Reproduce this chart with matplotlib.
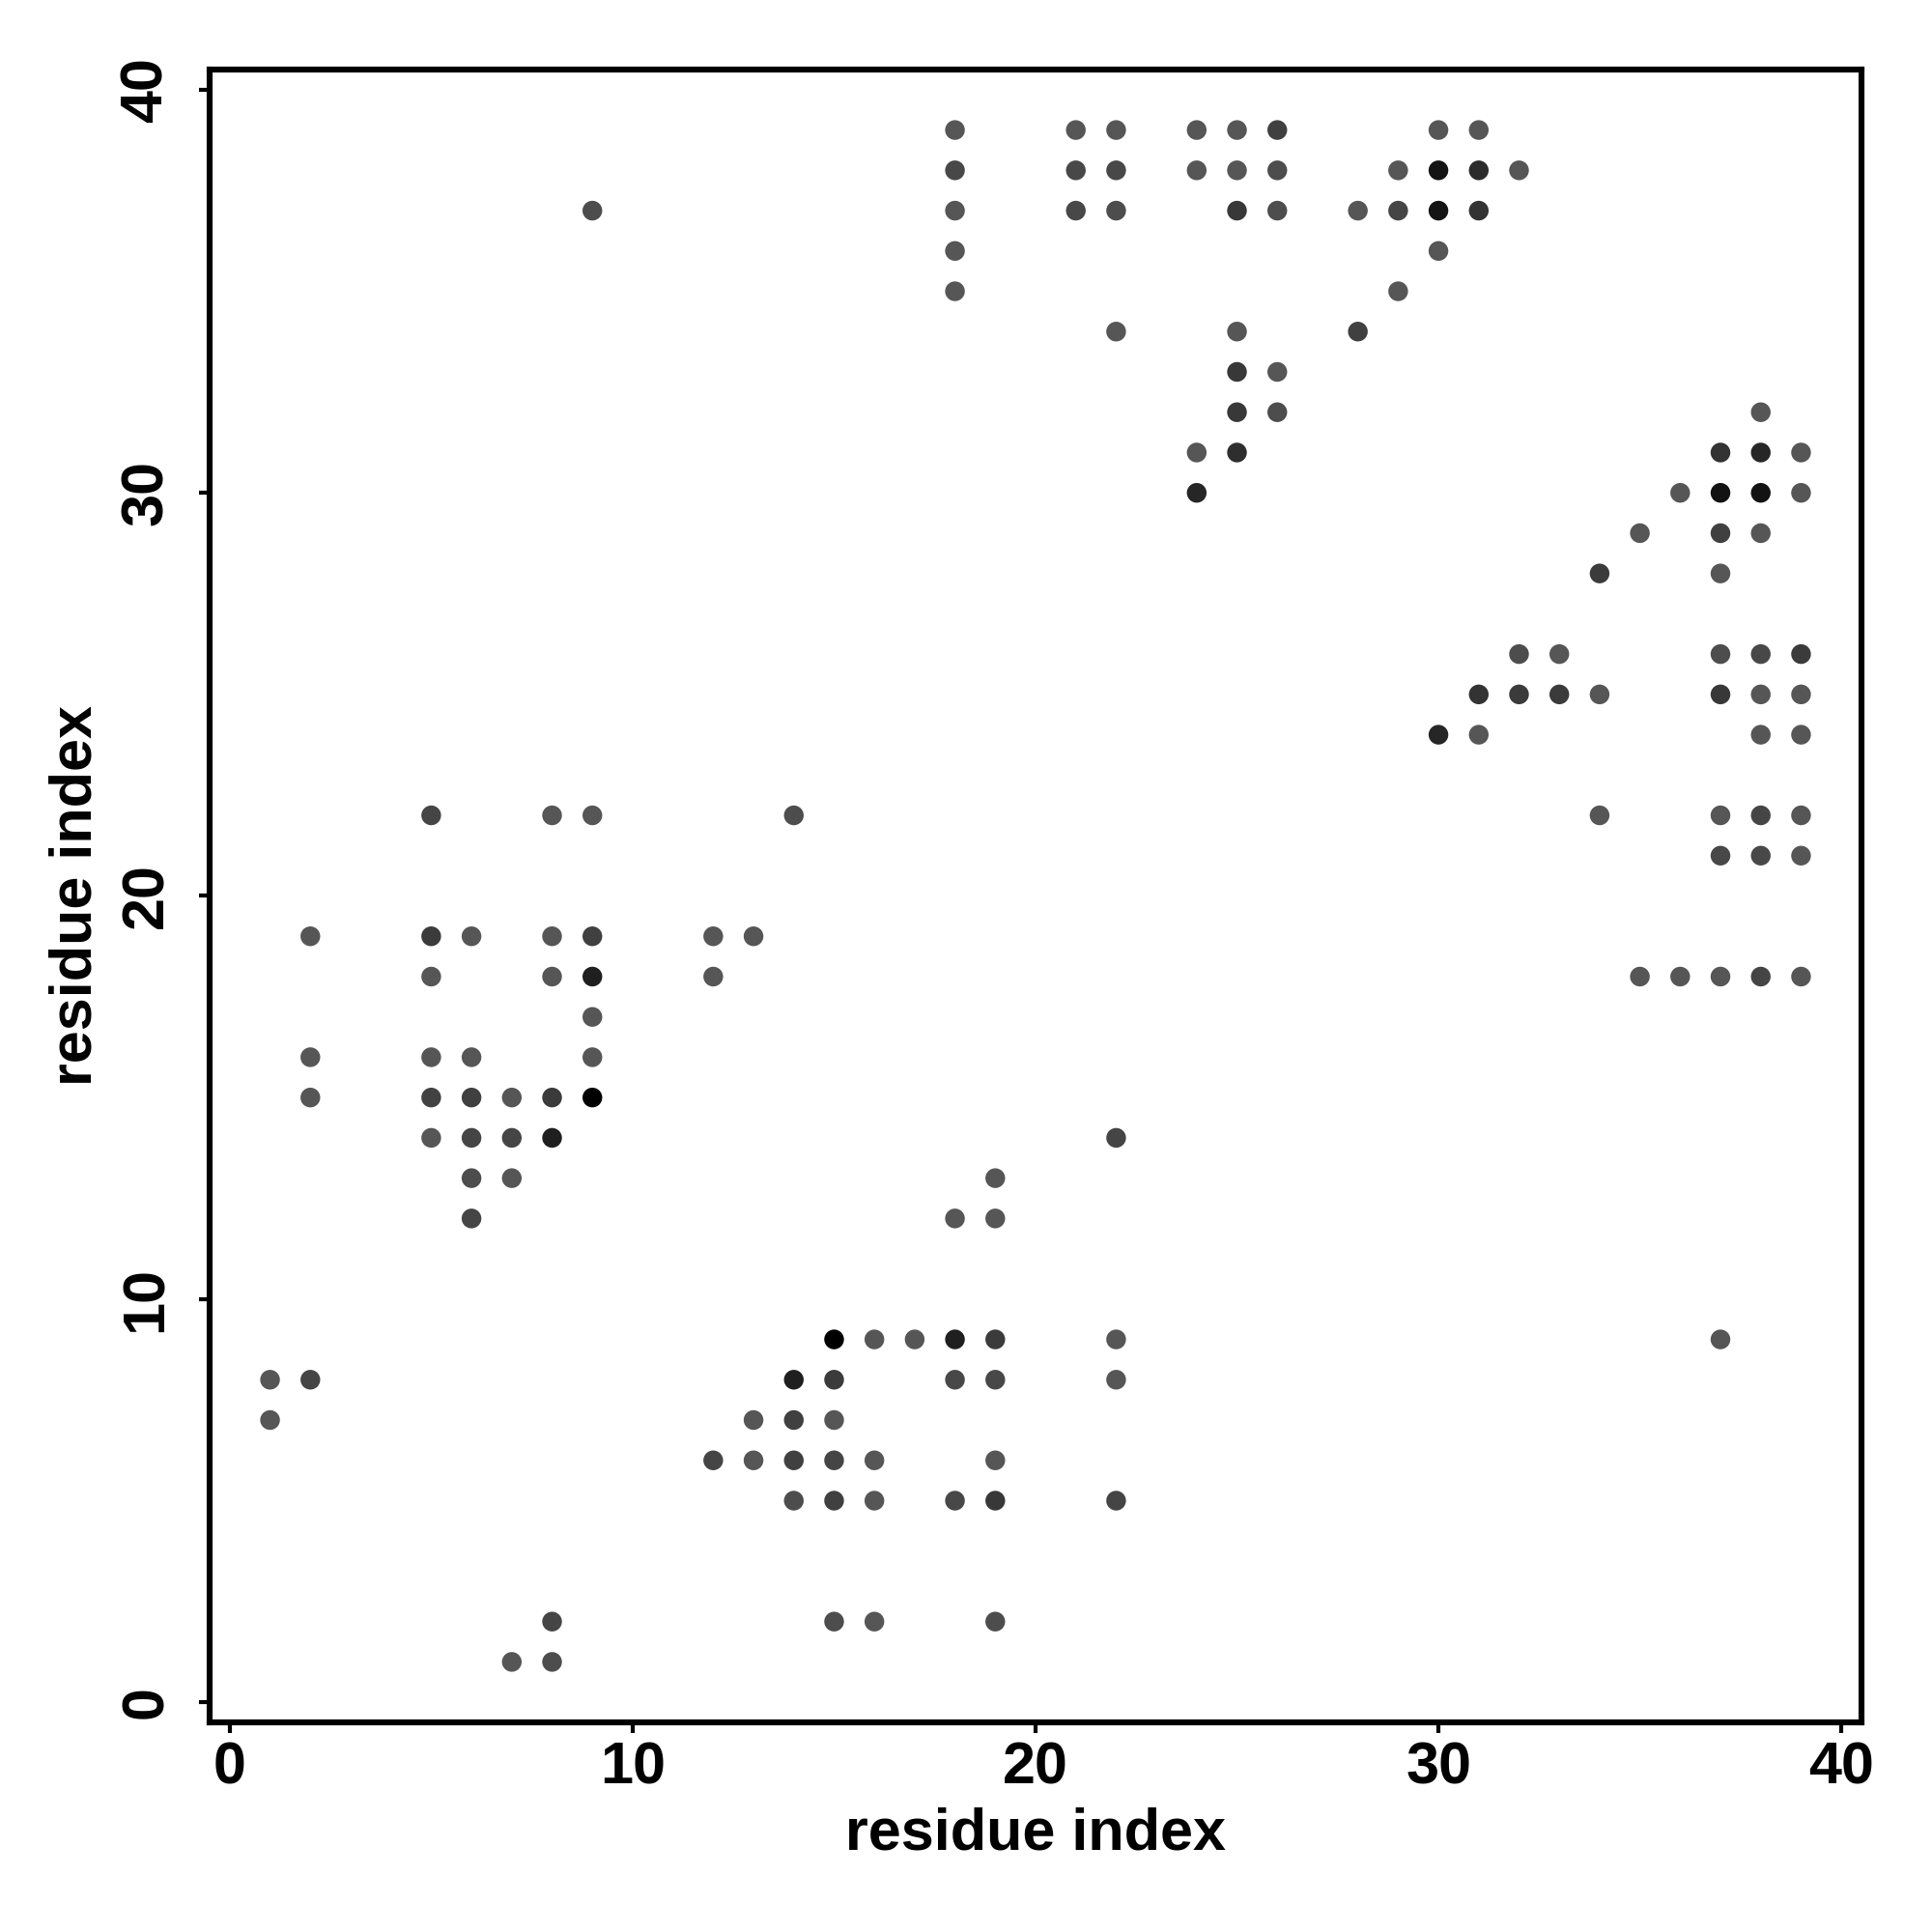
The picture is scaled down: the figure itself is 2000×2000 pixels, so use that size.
import matplotlib
matplotlib.use('Agg')
import matplotlib.pyplot as plt
import numpy as np

# contact map: residue pairs (i, j) and grey level of each dot (0 = black, 255 = white)
res_i = [18, 21, 22, 24, 25, 26, 30, 31,
         18, 21, 22, 24, 25, 26, 29, 30, 31, 32,
         9, 18, 21, 22, 25, 26, 28, 29, 30, 31,
         18, 30,
         18, 29,
         22, 25, 28,
         25, 26,
         25, 26, 38,
         24, 25, 37, 38, 39,
         24, 36, 37, 38, 39,
         35, 37, 38,
         34, 37,
         32, 33, 37, 38, 39,
         31, 32, 33, 34, 37, 38, 39,
         30, 31, 38, 39,
         5, 8, 9, 14, 34, 37, 38, 39,
         37, 38, 39,
         2, 5, 6, 8, 9, 12, 13,
         5, 8, 9, 12, 35, 36, 37, 38, 39,
         9,
         2, 5, 6, 9,
         2, 5, 6, 7, 8, 9,
         5, 6, 7, 8, 22,
         6, 7, 19,
         6, 18, 19,
         15, 16, 17, 18, 19, 22, 37,
         1, 2, 14, 15, 18, 19, 22,
         1, 13, 14, 15,
         12, 13, 14, 15, 16, 19,
         14, 15, 16, 18, 19, 22,
         8, 15, 16, 19,
         7, 8]

res_j = [39] * 8 + [38] * 10 + [37] * 10 + [36] * 2 + [35] * 2 + [34] * 3 \
    + [33] * 2 + [32] * 3 + [31] * 5 + [30] * 5 + [29] * 3 + [28] * 2 \
    + [26] * 5 + [25] * 7 + [24] * 4 + [22] * 8 + [21] * 3 + [19] * 7 \
    + [18] * 9 + [17] * 1 + [16] * 4 + [15] * 6 + [14] * 5 + [13] * 3 \
    + [12] * 3 + [9] * 7 + [8] * 7 + [7] * 4 + [6] * 6 + [5] * 6 \
    + [2] * 4 + [1] * 2

grey = [86, 86, 86, 86, 86, 64, 86, 86,
        72, 72, 72, 86, 86, 77, 86, 20, 43, 86,
        77, 86, 72, 77, 56, 77, 86, 69, 20, 51,
        86, 86,
        86, 86,
        86, 86, 64,
        56, 86,
        56, 77, 86,
        86, 46, 51, 38, 86,
        38, 86, 18, 18, 86,
        86, 64, 86,
        59, 86,
        77, 86, 77, 72, 59,
        51, 59, 59, 86, 56, 86, 86,
        38, 86, 86, 86,
        69, 86, 86, 77, 86, 86, 69, 86,
        72, 72, 86,
        86, 59, 86, 86, 64, 86, 86,
        86, 86, 31, 86, 86, 86, 86, 69, 86,
        86,
        86, 86, 86, 86,
        86, 66, 64, 86, 59, 0,
        86, 69, 69, 31, 69,
        77, 86, 86,
        69, 86, 86,
        0, 86, 86, 31, 59, 86, 86,
        86, 69, 31, 59, 72, 72, 86,
        86, 86, 64, 86,
        69, 86, 64, 69, 86, 86,
        77, 64, 86, 72, 56, 69,
        69, 77, 86, 77,
        86, 77]

colors = [(g / 255, g / 255, g / 255) for g in grey]

plt.rcParams['font.family'] = ['Liberation Sans', 'DejaVu Sans']
plt.rcParams['font.weight'] = 'bold'

fig = plt.figure(figsize=(10, 10), dpi=200)
ax = fig.add_axes([0.1085, 0.1085, 0.855, 0.8555])
ax.scatter(res_i, res_j, s=54, c=colors, linewidths=0, zorder=3)

ax.set_xlim(-0.5, 40.5)
ax.set_ylim(-0.5, 40.5)
ax.set_xticks([0, 10, 20, 30, 40])
ax.set_yticks([0, 10, 20, 30, 40])
for sp in ax.spines.values():
    sp.set_linewidth(2.2)
ax.tick_params(axis='both', length=4, width=1.5, labelsize=22)
ax.tick_params(axis='x', pad=3)
ax.tick_params(axis='y', pad=9)
for lab in ax.get_yticklabels():
    lab.set_rotation(90)
    lab.set_va('center')
ax.set_xlabel('residue index', fontsize=22, fontweight='bold', labelpad=4)
ax.set_ylabel('residue index', fontsize=22, fontweight='bold', labelpad=6)

fig.savefig('out.png', dpi=200, facecolor='white')
